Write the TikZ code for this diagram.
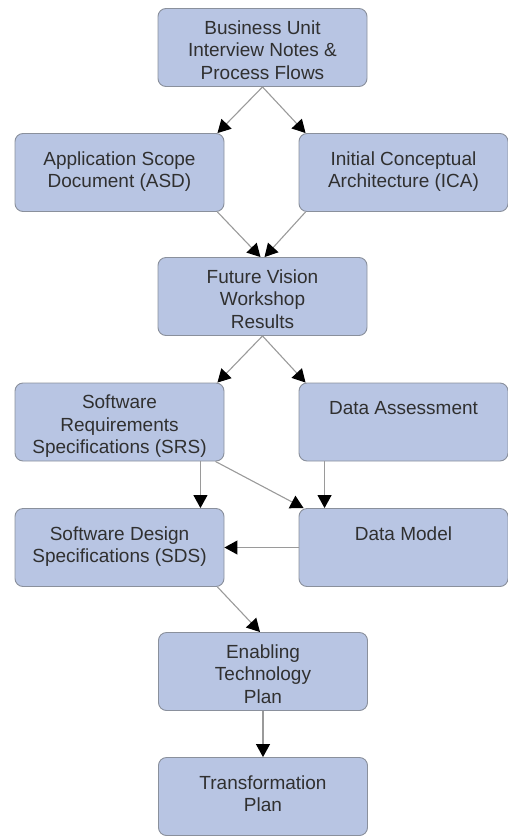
\documentclass[tikz,border=0pt]{standalone}
\usepackage{fontspec}
\setmainfont{Liberation Sans}
\usetikzlibrary{arrows.meta}
\definecolor{boxfill}{HTML}{B8C5E3}
\definecolor{boxline}{HTML}{8A909C}
\definecolor{conn}{HTML}{9A9A9A}
\definecolor{txt}{HTML}{303030}
\newcommand{\bxt}[2]{\parbox[c][78pt][t]{209pt}{\centering\fontsize{19pt}{22.5pt}\selectfont\vspace*{#1}\rule{0pt}{15pt}#2\par}}
\tikzset{
  procbox/.style={draw=boxline, fill=boxfill, line width=0.9pt, rounded corners=8pt, inner sep=0pt, text=txt},
  flow/.style={draw=conn, line width=1.1pt, -{Triangle[length=13pt,width=14pt,color=black,fill=black]}}
}
\begin{document}
\begin{tikzpicture}[x=1pt,y=-1pt]
\useasboundingbox (0,0) rectangle (508,836);
\node[procbox] (bu)  at (262.5,47.5)  {\bxt{10.5pt}{Business Unit\\Interview Notes \&\\Process Flows}};
\node[procbox] (asd) at (119.5,172.5) {\bxt{16.5pt}{Application Scope\\Document (ASD)}};
\node[procbox] (ica) at (403.5,172.5) {\bxt{16.5pt}{Initial Conceptual\\Architecture (ICA)}};
\node[procbox] (fv)  at (262.5,296.5) {\bxt{10.5pt}{Future Vision\\Workshop\\Results}};
\node[procbox] (srs) at (119.5,422)   {\bxt{10.5pt}{Software\\Requirements\\Specifications (SRS)}};
\node[procbox] (da)  at (403.5,422)   {\bxt{16.5pt}{Data Assessment}};
\node[procbox] (sds) at (119.5,547.5) {\bxt{16.5pt}{Software Design\\Specifications (SDS)}};
\node[procbox] (dm)  at (403.5,547.5) {\bxt{16.5pt}{Data Model}};
\node[procbox] (etp) at (263,671.5)   {\bxt{10.5pt}{Enabling\\Technology\\Plan}};
\node[procbox] (tp)  at (263,796.5)   {\bxt{16.5pt}{Transformation\\Plan}};

\draw[flow] (bu.south) -- ([xshift=-7pt]asd.north east);
\draw[flow] (bu.south) -- ([xshift=7pt]ica.north west);
\draw[flow] ([xshift=-7pt]asd.south east) -- ([xshift=-2pt]fv.north);
\draw[flow] ([xshift=7pt]ica.south west) -- ([xshift=2pt]fv.north);
\draw[flow] (fv.south) -- ([xshift=-7pt]srs.north east);
\draw[flow] (fv.south) -- ([xshift=7pt]da.north west);
\draw[flow] ([xshift=-24pt]srs.south east) -- ([xshift=-24pt]sds.north east);
\draw[flow] ([xshift=-9pt]srs.south east) -- ([xshift=5pt]dm.north west);
\draw[flow] ([xshift=26pt]da.south west) -- ([xshift=26pt]dm.north west);
\draw[flow] (dm.west) -- (sds.east);
\draw[flow] ([xshift=-7pt]sds.south east) -- ([xshift=-3pt]etp.north);
\draw[flow] (etp.south) -- (tp.north);
\end{tikzpicture}
\end{document}
